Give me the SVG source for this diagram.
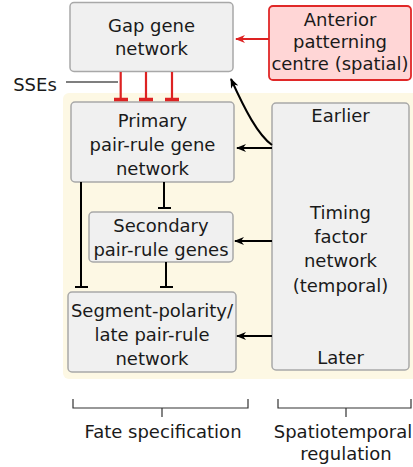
<svg xmlns="http://www.w3.org/2000/svg" width="413" height="467" viewBox="0 0 413 467">
<style>
text{font-family:"DejaVu Sans",Verdana,sans-serif;font-size:18px;fill:#1a1a1a;text-anchor:middle}
.box{fill:#f0f0f0;stroke:#a8a8a8;stroke-width:1.5}
.red{fill:#ffd6d6;stroke:#e02828;stroke-width:1.8}
.k{stroke:#000;stroke-width:2;fill:none}
.r{stroke:#dd2222;stroke-width:2.2;fill:none}
.br{stroke:#333;stroke-width:1.2;fill:none}
</style>
<defs>
<marker id="ak" markerWidth="10" markerHeight="8" refX="9" refY="4" orient="auto" markerUnits="userSpaceOnUse"><path d="M0,0 L10,4 L0,8 L3,4 Z" fill="#000"/></marker>
<marker id="ar" markerWidth="10" markerHeight="8" refX="9" refY="4" orient="auto" markerUnits="userSpaceOnUse"><path d="M0,0 L10,4 L0,8 L3,4 Z" fill="#dd2222"/></marker>
</defs>
<rect x="63" y="93" width="360" height="286" rx="6" fill="#fdf8e4"/>
<g id="gap"><rect class="box" x="70" y="2.5" width="163" height="69" rx="4"/><text x="151.5" y="32">Gap gene</text><text x="151.5" y="55">network</text></g>
<g id="anterior"><rect class="red" x="269" y="6" width="142" height="74" rx="4"/><text x="340" y="26">Anterior</text><text x="340" y="48">patterning</text><text x="340" y="70">centre (spatial)</text></g>
<g id="primary"><rect class="box" x="71" y="102" width="163" height="80" rx="4"/><text x="152.5" y="127">Primary</text><text x="152.5" y="151">pair-rule gene</text><text x="152.5" y="175">network</text></g>
<g id="secondary"><rect class="box" x="89" y="212" width="144" height="50" rx="4"/><text x="161" y="232">Secondary</text><text x="161" y="256">pair-rule genes</text></g>
<g id="segment"><rect class="box" x="68" y="292" width="168" height="80" rx="4"/><text x="152" y="317">Segment-polarity/</text><text x="152" y="341">late pair-rule</text><text x="152" y="365">network</text></g>
<g id="timing"><rect class="box" x="272" y="103" width="137" height="267" rx="4"/><text x="340.5" y="122">Earlier</text><text x="340.5" y="219">Timing</text><text x="340.5" y="243">factor</text><text x="340.5" y="267">network</text><text x="340.5" y="292">(temporal)</text><text x="340.5" y="364">Later</text></g>
<g id="connectors">
<line class="r" x1="269" y1="39" x2="236" y2="39" marker-end="url(#ar)"/>
<path class="r" d="M120.7,72V98M146,72V98M172,72V98"/>
<path d="M114,99.5H128M139,99.5H153M165,99.5H179" stroke="#dd2222" stroke-width="3.5"/>
<line x1="66" y1="82" x2="118" y2="82" stroke="#000" stroke-width="1.2"/>
<path class="k" d="M272,145 C258,135 245,110 231,79" marker-end="url(#ak)"/>
<line class="k" x1="272" y1="148" x2="237" y2="148" marker-end="url(#ak)"/>
<line class="k" x1="272" y1="241" x2="235" y2="241" marker-end="url(#ak)"/>
<line class="k" x1="272" y1="336" x2="237" y2="336" marker-end="url(#ak)"/>
<path class="k" d="M164,182V208M158,208H171"/>
<path class="k" d="M81,182V287M75,287H88"/>
<path class="k" d="M166,262V287M160,287H173"/>
</g>
<g id="brackets">
<path class="br" d="M73,399V408H248V399M162,408V417"/>
<path class="br" d="M278,399V408H411V399M346,408V417"/>
</g>
<text x="163" y="438">Fate specification</text>
<text x="343" y="438">Spatiotemporal</text>
<text x="346" y="460">regulation</text>
<text x="35" y="91">SSEs</text>
</svg>
